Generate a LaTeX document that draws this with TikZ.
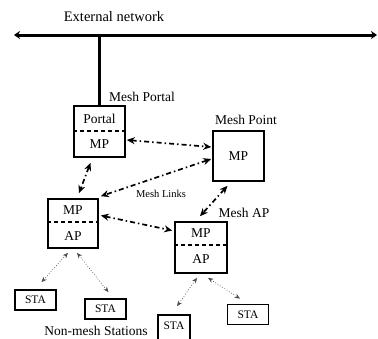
\documentclass[tikz,border=0pt]{standalone}
\usepackage{fontspec}
\setmainfont{Liberation Serif}
\usetikzlibrary{arrows.meta}
\begin{document}
\begin{tikzpicture}[x=1pt,y=-1pt,
  box/.style={draw=black,line width=1.6pt,inner sep=0pt},
  stabox/.style={draw=black,line width=1.6pt,inner sep=0pt,minimum width=41pt,minimum height=20pt,font=\fontsize{11.5}{12}\selectfont},
  lbl/.style={font=\fontsize{13.5}{14}\selectfont,inner sep=0pt},
  divider/.style={line width=1.5pt,dash pattern=on 4pt off 3pt},
  meshlink/.style={line width=1.7pt,dash pattern=on 5pt off 3pt on 1.5pt off 3pt,
     {Stealth[length=8pt,width=7pt]}-{Stealth[length=8pt,width=7pt]}},
  stalink/.style={line width=0.7pt,gray!60!black,dotted,
     {Stealth[length=5.5pt,width=4.5pt]}-{Stealth[length=5.5pt,width=4.5pt]}},
  bus/.style={line width=3pt,{Stealth[length=6pt,width=8pt]}-{Stealth[length=6pt,width=8pt]}}
]
\useasboundingbox (0,0) rectangle (378,338);
\clip (0,0) rectangle (378,338);

% external network
\node[font=\fontsize{14.5}{15}\selectfont,inner sep=0pt] (ext) at (114,17) {External network};
\coordinate (busL) at (14,35);
\coordinate (busR) at (377,35);
\draw[bus] (busL) -- (busR);

% boxes
\node[box,minimum width=51pt,minimum height=51pt] (portal) at (99.5,131.5) {};
\node[box,minimum width=51pt,minimum height=50pt] (mpt) at (238.5,156) {};
\node[box,minimum width=50pt,minimum height=49pt] (ap1) at (73,223.5) {};
\node[box,minimum width=52pt,minimum height=51pt] (ap2) at (201,247.5) {};

\draw[line width=3pt] (portal.north) -- (portal.north |- busL);

% dividers
\draw[divider] (portal.west |- 0,131) -- (portal.east |- 0,131);
\draw[divider] (ap1.west |- 0,222) -- (ap1.east |- 0,222);
\draw[divider] (ap2.west |- 0,245) -- (ap2.east |- 0,245);

% box texts
\node[lbl] (tportal) at (99.5,119) {Portal};
\node[lbl] (tportalmp) at (99.5,144) {MP};
\node[lbl] (tmpt) at (238.5,156) {MP};
\node[lbl] (tap1mp) at (73,210) {MP};
\node[lbl] (tap1ap) at (73,236) {AP};
\node[lbl] (tap2mp) at (201,233) {MP};
\node[lbl] (tap2ap) at (201,259) {AP};

% labels
\node[lbl] (lportal) at (142,97) {Mesh Portal};
\node[lbl] (lmpt) at (246,120) {Mesh Point};
\node[lbl] (lmap) at (244,213) {Mesh AP};
\node[font=\fontsize{10.5}{12}\selectfont,inner sep=0pt] (llinks) at (161,194) {Mesh Links};
\node[lbl] (lnon) at (96,330.5) {Non-mesh Stations};

% stations
\node[stabox] (sta1) at (35.5,300) {STA};
\node[stabox] (sta2) at (105.5,309) {STA};
\node[stabox,minimum width=32pt,minimum height=26pt] (sta3) at (174,328) {};
\node[font=\fontsize{11.5}{12}\selectfont,inner sep=0pt] (tsta3) at (174,326) {STA};
\node[stabox] (sta4) at (248,314.5) {STA};

% mesh links
\draw[meshlink] ([xshift=1pt,yshift=-8.5pt]portal.east) -- ([xshift=-1pt,yshift=9pt]mpt.west);
\draw[meshlink] ([xshift=-1pt,yshift=-3pt]mpt.west) -- ([xshift=2pt,yshift=2pt]ap1.north east);
\draw[meshlink] ([xshift=-9pt,yshift=-5pt]portal.south) -- ([xshift=6pt,yshift=5pt]ap1.north);
\draw[meshlink] ([xshift=2pt,yshift=8pt]ap1.east) -- ([xshift=-2pt,yshift=17pt]ap2.west);
\draw[meshlink] ([xshift=-11pt,yshift=-4pt]mpt.south) -- ([xshift=-1pt,yshift=5pt]ap2.north);

% station links
\draw[stalink] ([xshift=-5pt,yshift=-4pt]ap1.south) -- ([xshift=6pt,yshift=7pt]sta1.north);
\draw[stalink] ([xshift=4pt,yshift=-4pt]ap1.south) -- ([xshift=3pt,yshift=6pt]sta2.north);
\draw[stalink] ([xshift=-4pt,yshift=-4pt]ap2.south) -- ([xshift=3pt,yshift=8pt]sta3.north);
\draw[stalink] ([xshift=7pt,yshift=-4pt]ap2.south) -- ([xshift=-8pt,yshift=5pt]sta4.north);
\end{tikzpicture}
\end{document}
